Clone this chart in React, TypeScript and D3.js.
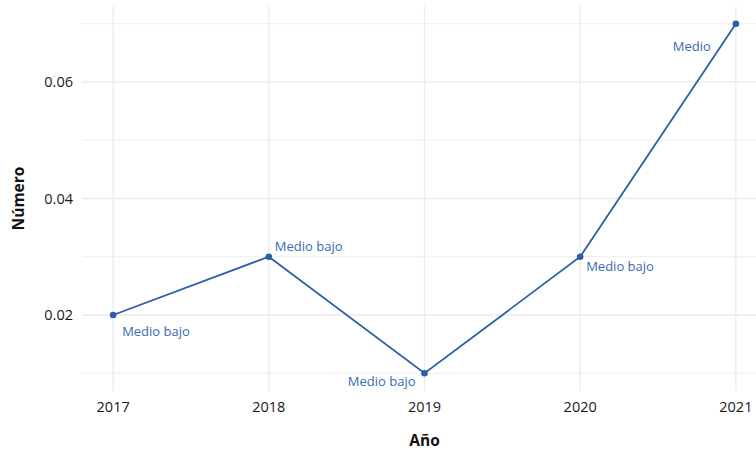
import React from "react";
import * as d3 from "d3";

const years = [2017, 2018, 2019, 2020, 2021];
const values = [0.02, 0.03, 0.01, 0.03, 0.07];
const labels = ["Medio bajo", "Medio bajo", "Medio bajo", "Medio bajo", "Medio"];
const yTicks = [0.02, 0.04, 0.06];
const yMinor = [0.01, 0.03, 0.05, 0.07];

const labelPos = [
  { anchor: "start", dx: 9, dy: 21 },
  { anchor: "start", dx: 6, dy: -6 },
  { anchor: "end", dx: -9, dy: 13 },
  { anchor: "start", dx: 6, dy: 14 },
  { anchor: "end", dx: -25, dy: 27 },
];

const W = 756;
const H = 451;
const FONT = "'Open Sans', 'DejaVu Sans', sans-serif";
const LINE = "#2b5da8";
const TEXTC = "#3a6bb3";
const GRID = "#ebebeb";

export default function App() {
  const x = d3.scaleLinear().domain([2016.8, 2021.2]).range([82, 767]);
  const y = d3.scaleLinear().domain([0.007, 0.073]).range([390.7, 6.3]);
  const pts = years.map((yr, i) => [x(yr), y(values[i])] as [number, number]);
  const line = d3.line()(pts) || "";
  const [x0, x1] = x.range();
  const [yb, yt] = y.range();
  return (
    <svg width={W} height={H} style={{ position: "absolute", left: 0, top: 0, background: "#fff" }}>
      <g>
        {yMinor.map((v) => (
          <line key={"mi" + v} x1={x0} x2={x1} y1={y(v)} y2={y(v)} stroke={GRID} strokeWidth={0.9} />
        ))}
        {yTicks.map((v) => (
          <line key={"ma" + v} x1={x0} x2={x1} y1={y(v)} y2={y(v)} stroke={GRID} strokeWidth={1.3} />
        ))}
        {years.map((v) => (
          <line key={"vx" + v} x1={x(v)} x2={x(v)} y1={yt} y2={yb} stroke={GRID} strokeWidth={1.3} />
        ))}
      </g>
      <path d={line} fill="none" stroke={LINE} strokeWidth={1.8} />
      {pts.map((p, i) => (
        <circle key={"c" + i} cx={p[0]} cy={p[1]} r={3.3} fill={LINE} />
      ))}
      {pts.map((p, i) => (
        <text
          key={"l" + i}
          x={p[0] + labelPos[i].dx}
          y={p[1] + labelPos[i].dy}
          textAnchor={labelPos[i].anchor as any}
          fontFamily={FONT}
          fontSize={13}
          fill={TEXTC}
        >
          {labels[i]}
        </text>
      ))}
      {yTicks.map((v) => (
        <text key={"yt" + v} x={73} y={y(v)} dy="0.35em" textAnchor="end" fontFamily={FONT} fontSize={14.5} fill="#1a1a1a">
          {d3.format(".2f")(v)}
        </text>
      ))}
      {years.map((v) => (
        <text key={"xt" + v} x={x(v)} y={412} textAnchor="middle" fontFamily={FONT} fontSize={14.5} fill="#1a1a1a">
          {v}
        </text>
      ))}
      <text x={x(2019)} y={446} textAnchor="middle" fontFamily={FONT} fontSize={15.5} fontWeight="bold" fill="#111">
        Año
      </text>
      <text
        transform={`translate(24,${y(0.04)}) rotate(-90)`}
        textAnchor="middle"
        fontFamily={FONT}
        fontSize={15.5}
        fontWeight="bold"
        fill="#111"
      >
        Número
      </text>
    </svg>
  );
}
